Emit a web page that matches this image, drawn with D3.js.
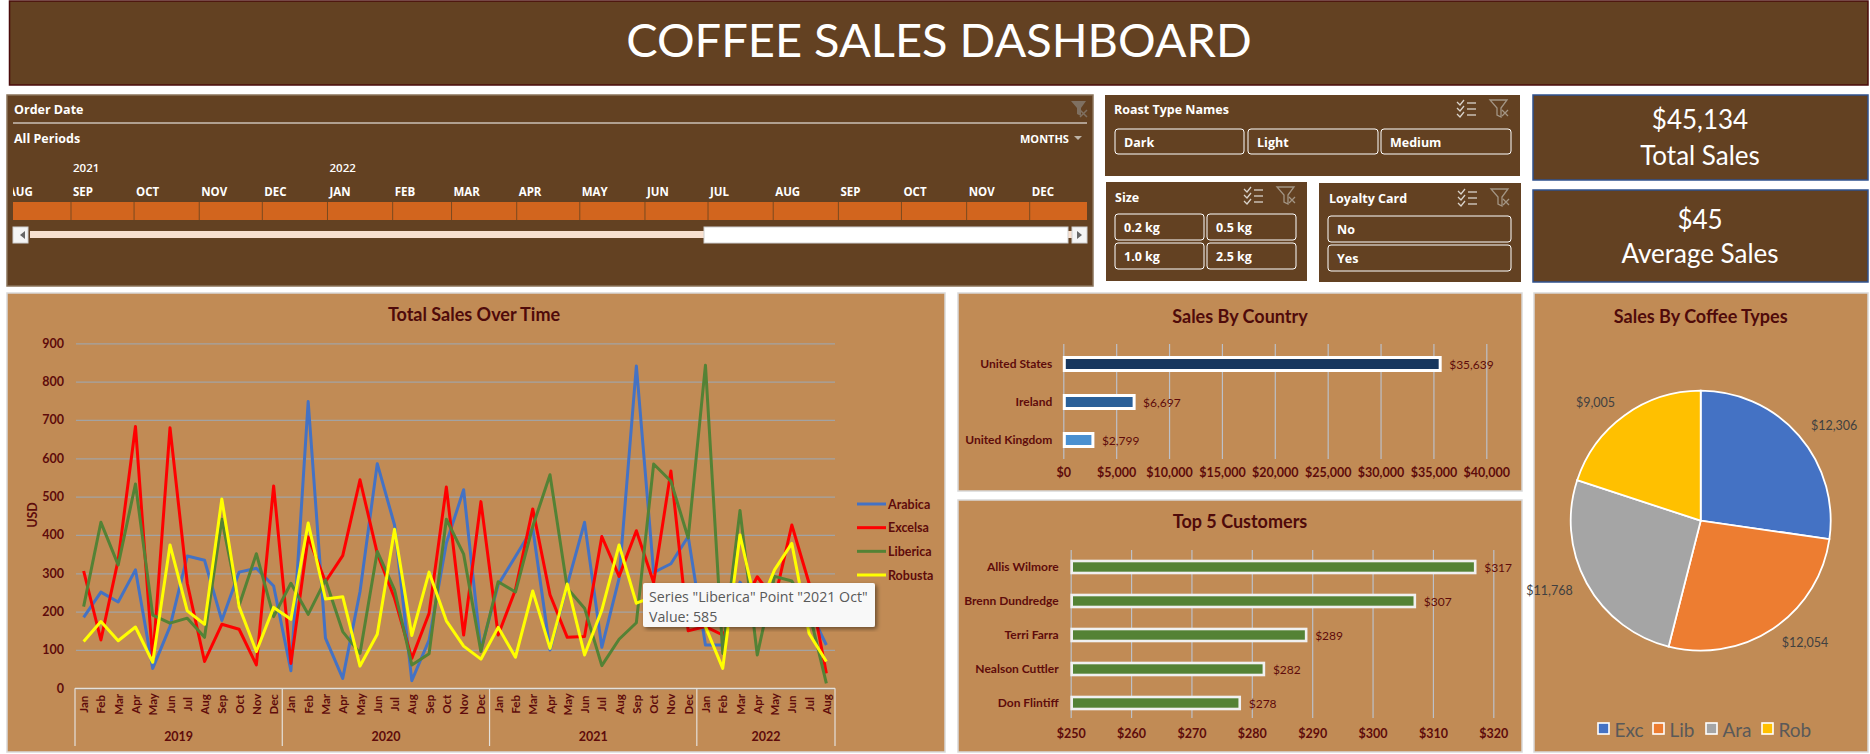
<!DOCTYPE html>
<html lang="en">
<head>
<meta charset="UTF-8">
<title>Coffee Sales Dashboard</title>
<style>
    body { margin: 0; background: #fff; }
    svg { display: block; }
    text { font-family: Lato, sans-serif; }
    .maroon { fill: #5e0b0b; font-weight: 700; }
    .title { fill: #4f0a0a; font-weight: 700; font-size: 18px; text-anchor: middle; dominant-baseline: central; }
    .slicer { fill: #fff; font-family: "Open Sans", sans-serif; font-weight: 700; font-size: 12.5px; dominant-baseline: central; }
    .kpi { fill: #fff; font-size: 26px; text-anchor: middle; dominant-baseline: central; }
    .axis .domain { display: none; }
    .axis text { fill: #5e0b0b; font-family: Lato, sans-serif; font-weight: 700; font-size: 12.5px; }
</style>
</head>
<body>
<svg width="1870" height="754"></svg>
<script src="https://d3js.org/d3.v7.min.js"></script>
<script>

var monthNames = ["Jan","Feb","Mar","Apr","May","Jun","Jul","Aug","Sep","Oct","Nov","Dec"];
var years = ["2019","2020","2021","2022"];
var yTicks = [0,100,200,300,400,500,600,700,800,900];

var arabica = [185,251,225,309,52,161,345,334,177,303,313,267,
               46,748,131,26,252,586,426,20,126,379,518,100,
               270,344,418,100,270,433,107,287,841,302,325,396,
               113,113,277,210,250,270,205,113];
var excelsa = [306,126,335,683,74,680,274,70,167,154,61,528,
               65,395,278,346,544,352,235,78,196,525,139,487,
               139,257,468,244,133,135,396,292,411,276,567,150,
               161,139,205,291,230,426,274,39];
var liberica = [213,433,322,533,191,170,183,133,441,216,351,187,
                274,193,283,148,91,357,257,61,90,441,350,96,
                278,251,422,557,261,209,59,128,171,585,540,392,
                843,91,464,87,292,280,200,13];
var robusta = [122,174,124,160,68,374,202,167,494,213,96,211,
               180,431,233,239,58,141,415,138,303,176,110,76,
               159,81,254,104,272,87,204,374,222,239,222,190,
               161,52,400,200,309,378,143,70];

var seriesNames = ["Arabica","Excelsa","Liberica","Robusta"];
var seriesColors = ["#4472c4","#ff0000","#548235","#ffff00"];

var countries = ["United States","Ireland","United Kingdom"];
var countrySales = [35639,6697,2799];
var countryColors = ["#17375e","#2a6099","#4a90d0"];
var countryTicks = [0,5000,10000,15000,20000,25000,30000,35000,40000];

var customers = ["Allis Wilmore","Brenn Dundredge","Terri Farra","Nealson Cuttler","Don Flintiff"];
var customerSales = [317,307,289,282,278];
var customerTicks = [250,260,270,280,290,300,310,320];

var coffeeTypes = ["Exc","Lib","Ara","Rob"];
var coffeeSales = [12306,12054,11768,9005];
var coffeeColors = ["#4472c4","#ed7d31","#a5a5a5","#ffc000"];

var roastNames = ["Dark","Light","Medium"];
var sizeNames = ["0.2 kg","0.5 kg","1.0 kg","2.5 kg"];
var loyaltyNames = ["No","Yes"];
var kpiValues = ["$45,134","$45"];
var kpiNames = ["Total Sales","Average Sales"];

var brown = "#634122", tan = "#c18b55";
var usd = d3.format("$,");
var svg = d3.select("svg");

function panel(x, y, x2, y2, fill, stroke) {
    return svg.append("rect").attr("x", x).attr("y", y)
        .attr("width", x2 - x).attr("height", y2 - y)
        .attr("fill", fill).attr("stroke", stroke || "none").attr("stroke-width", 1.5);
}

function label(x, y, txt, cls) {
    return svg.append("text").attr("x", x).attr("y", y).attr("class", cls).text(txt);
}

function button(x, y, x2, y2, txt) {
    svg.append("rect").attr("x", x).attr("y", y).attr("width", x2 - x).attr("height", y2 - y)
        .attr("rx", 3).attr("fill", "none").attr("stroke", "#fff");
    label(x + 9, (y + y2) / 2 + 0.5, txt, "slicer");
}

// the two little icons in a slicer header
function slicerIcons(x, y) {
    var g = svg.append("g").attr("transform", "translate(" + x + "," + y + ")")
        .attr("fill", "none").attr("stroke", "#d9d3cb").attr("stroke-width", 1.3);
    [2, 8, 14].forEach(function(d) {
        g.append("path").attr("d", "M0 " + d + "l3 3l4 -5");
        g.append("path").attr("d", "M10 " + (d + 1) + "h9");
    });
    var f = svg.append("g").attr("transform", "translate(" + (x + 33) + "," + y + ")")
        .attr("fill", "none").attr("stroke", "#a39584").attr("stroke-width", 1.3);
    f.append("path").attr("d", "M0 0h17l-6 8v9l-4 -2v-7z");
    f.append("path").attr("d", "M12 10l6 6M18 10l-6 6");
}

/* header */
panel(9.5, 1, 1868, 85, brown, "#4a0b0b");
label(939, 39, "COFFEE SALES DASHBOARD", "kpi").style("font-size", "47px");

/* timeline slicer */
panel(7, 95, 1093, 286, brown, "#8a735a");
label(14, 109, "Order Date", "slicer");
svg.append("line").attr("x1", 13).attr("x2", 1087).attr("y1", 123).attr("y2", 123).attr("stroke", "#fff");
label(14, 138, "All Periods", "slicer");
label(1020, 138, "MONTHS", "slicer").style("font-size", "11px");
svg.append("path").attr("d", "M1074 136h8l-4 4z").attr("fill", "#bdb3a6");
svg.append("path").attr("d", "M1071 101h15l-5 7v8l-4 -2v-6z").attr("fill", "#7f7061");
svg.append("path").attr("d", "M1080 110l7 7M1087 110l-7 7")
    .attr("fill", "none").attr("stroke", "#7f7061").attr("stroke-width", 1.5);

var timeX = d3.scaleUtc()
    .domain([new Date(Date.UTC(2021, 8, 1)), new Date(Date.UTC(2022, 11, 1))])
    .range([71, 1029.7]);
var monthStarts = d3.utcMonth.range(new Date(Date.UTC(2021, 7, 1)), new Date(Date.UTC(2022, 11, 2)));

svg.append("clipPath").attr("id", "tl").append("rect")
    .attr("x", 13).attr("y", 150).attr("width", 1074).attr("height", 75);
var tl = svg.append("g").attr("clip-path", "url(#tl)");
tl.append("rect").attr("x", 13).attr("y", 202).attr("width", 1074).attr("height", 18).attr("fill", "#d2651e");
tl.selectAll(".sep").data(monthStarts.slice(1)).enter().append("line")
    .attr("x1", timeX).attr("x2", timeX).attr("y1", 202).attr("y2", 220)
    .attr("stroke", "#7a4a20");
tl.selectAll(".mon").data(monthStarts).enter().append("text")
    .attr("class", "slicer").attr("x", function(d) { return timeX(d) + 2; }).attr("y", 191)
    .style("font-size", "11.5px")
    .text(function(d) { return d3.utcFormat("%b")(d).toUpperCase(); });
tl.selectAll(".yr").data(monthStarts.filter(function(d) {
        return +d === Date.UTC(2021, 8, 1) || +d === Date.UTC(2022, 0, 1);
    })).enter().append("text")
    .attr("class", "slicer").attr("x", function(d) { return timeX(d) + 2; }).attr("y", 167)
    .style("font-size", "11.5px").style("font-weight", 600)
    .text(function(d) { return d.getUTCFullYear(); });

// scroll bar
svg.append("rect").attr("x", 30).attr("y", 231).attr("width", 1042).attr("height", 7).attr("fill", "#f8e0cf");
svg.append("rect").attr("x", 704).attr("y", 227).attr("width", 364).attr("height", 16)
    .attr("fill", "#fff").attr("stroke", "#d0d0d0");
[[13, "M25 231v8l-5 -4z"], [1072, "M1077 231v8l5 -4z"]].forEach(function(d) {
    svg.append("rect").attr("x", d[0]).attr("y", 227).attr("width", 15).attr("height", 16)
        .attr("fill", "#f4f4f4").attr("stroke", "#d0d0d0");
    svg.append("path").attr("d", d[1]).attr("fill", "#666");
});

/* roast / size / loyalty slicers */
panel(1105, 95, 1520, 176, brown);
label(1114, 109, "Roast Type Names", "slicer");
slicerIcons(1457, 100);
[[1115, 1244], [1248, 1378], [1381, 1511]].forEach(function(d, i) {
    button(d[0], 129, d[1], 154, roastNames[i]);
});

panel(1106, 182, 1307, 281, brown);
label(1115, 197, "Size", "slicer");
slicerIcons(1244, 187);
[[1115, 214, 1204, 240], [1207, 214, 1296, 240], [1115, 243, 1204, 269], [1207, 243, 1296, 269]].forEach(function(d, i) {
    button(d[0], d[1], d[2], d[3], sizeNames[i]);
});

panel(1319, 183, 1521, 282, brown);
label(1329, 198, "Loyalty Card", "slicer");
slicerIcons(1458, 189);
[[216, 242], [245, 271]].forEach(function(d, i) {
    button(1328, d[0], 1511, d[1], loyaltyNames[i]);
});

/* KPI cards */
panel(1533, 95, 1868, 180, brown, "#2f528f");
label(1700, 119, kpiValues[0], "kpi");
label(1700, 155, kpiNames[0], "kpi");
panel(1533, 190, 1868, 282, brown, "#2f528f");
label(1700, 219, kpiValues[1], "kpi");
label(1700, 253, kpiNames[1], "kpi");

/* line chart */
panel(7, 293, 945, 752, tan, "#d9d9d9");
label(474, 314, "Total Sales Over Time", "title");

var months = [];
years.forEach(function(y) {
    monthNames.forEach(function(m) { months.push(y + " " + m); });
});
months = months.slice(0, arabica.length);

var x = d3.scaleBand().domain(months).range([75, 835]);
var y = d3.scaleLinear().domain([0, 900]).range([688.3, 343.3]);

svg.append("g").attr("class", "axis").attr("transform", "translate(76,0)")
    .call(d3.axisLeft(y).tickValues(yTicks).tickSize(-759).tickPadding(12))
    .call(function(g) {
        g.selectAll("line").attr("stroke", "#a3a3a3").attr("stroke-width", 1.2);
        g.selectAll("text").style("font-size", "12.5px");
    });

svg.append("text").attr("class", "maroon").attr("transform", "translate(32,515) rotate(-90)")
    .attr("text-anchor", "middle").attr("dominant-baseline", "central").style("font-size", "12.5px").text("USD");

var monthAxis = svg.append("g").attr("class", "axis").attr("transform", "translate(0,688.3)")
    .call(d3.axisBottom(x).tickSize(0).tickFormat(function(d) { return d.slice(5); }));
monthAxis.selectAll("text")
    .attr("transform", "translate(0,16) rotate(-90)").attr("x", 0).attr("y", 0).attr("dy", 0)
    .attr("text-anchor", "middle").attr("dominant-baseline", "central").style("font-size", "11.5px");

// year brackets under the months
var axisStroke = "#e4e0da";
svg.append("line").attr("x1", 75).attr("x2", 835).attr("y1", 688.3).attr("y2", 688.3)
    .attr("stroke", axisStroke).attr("stroke-width", 1.2);
var yearStart = years.map(function(d) { return x(d + " Jan"); }).concat([x.range()[1]]);
svg.selectAll(".yearline").data(yearStart).enter().append("line")
    .attr("x1", function(d) { return d; }).attr("x2", function(d) { return d; })
    .attr("y1", 688.3).attr("y2", 746).attr("stroke", axisStroke).attr("stroke-width", 1.2);
svg.selectAll(".yearlabel").data(years).enter().append("text")
    .attr("class", "maroon").style("font-size", "12.5px")
    .attr("text-anchor", "middle").attr("dominant-baseline", "central")
    .attr("x", function(d, i) { return (yearStart[i] + yearStart[i + 1]) / 2; })
    .attr("y", 736)
    .text(function(d) { return d; });

var line = d3.line()
    .x(function(d, i) { return x(months[i]) + x.bandwidth() / 2; })
    .y(function(d) { return y(d); });

[arabica, excelsa, liberica, robusta].forEach(function(values, i) {
    svg.append("path").datum(values)
        .attr("d", line).attr("fill", "none")
        .attr("stroke", seriesColors[i]).attr("stroke-width", 3)
        .attr("stroke-linejoin", "round");
});

// legend
var legY = d3.scalePoint().domain(seriesNames).range([504, 575]);
seriesNames.forEach(function(s, i) {
    svg.append("line").attr("x1", 857).attr("x2", 886).attr("y1", legY(s)).attr("y2", legY(s))
        .attr("stroke", seriesColors[i]).attr("stroke-width", 3);
    label(888, legY(s), s, "maroon").attr("dominant-baseline", "central").style("font-size", "12.5px");
});

// tooltip
svg.append("filter").attr("id", "shadow").append("feDropShadow")
    .attr("dx", 2).attr("dy", 2).attr("stdDeviation", 2).attr("flood-opacity", 0.45);
svg.append("rect").attr("x", 643).attr("y", 583).attr("width", 232).attr("height", 44).attr("rx", 2)
    .attr("fill", "#f8f8f8").attr("filter", "url(#shadow)");
[["Series \"Liberica\" Point \"2021 Oct\"", 596], ["Value: 585", 616]].forEach(function(d) {
    label(649, d[1], d[0]).attr("dominant-baseline", "central")
        .style("font-family", "'Open Sans', sans-serif").style("font-size", "14.2px").attr("fill", "#595959");
});

/* sales by country */
panel(958, 293, 1522, 491, tan, "#d9d9d9");
label(1240, 316, "Sales By Country", "title");

var cx = d3.scaleLinear().domain([0, 40000]).range([1063.3, 1486.3]);
var cy = d3.scaleBand().domain(countries).range([345, 459]);

svg.append("g").attr("class", "axis").attr("transform", "translate(0,459)")
    .call(d3.axisBottom(cx).tickValues(countryTicks).tickSize(-115).tickPadding(9).tickFormat(usd))
    .call(function(g) { g.selectAll("line").attr("stroke", "#bcc0c8").attr("stroke-width", 1.2); });
svg.append("g").attr("class", "axis").attr("transform", "translate(1063.3,0)")
    .call(d3.axisLeft(cy).tickSize(0).tickPadding(11))
    .call(function(g) { g.selectAll("text").style("font-size", "12px"); });

svg.selectAll(".cbar").data(countries).enter().append("rect")
    .attr("x", cx(0) + 1)
    .attr("y", function(d) { return cy(d) + cy.bandwidth() / 2 - 6.5; })
    .attr("width", function(d, i) { return cx(countrySales[i]) - cx(0) - 1; })
    .attr("height", 13)
    .attr("fill", function(d, i) { return countryColors[i]; })
    .attr("stroke", "#fff").attr("stroke-width", 3);
svg.selectAll(".clab").data(countries).enter().append("text")
    .attr("class", "maroon").style("font-weight", 400).style("font-size", "12px")
    .attr("dominant-baseline", "central")
    .attr("x", function(d, i) { return cx(countrySales[i]) + 9; })
    .attr("y", function(d) { return cy(d) + cy.bandwidth() / 2; })
    .text(function(d, i) { return usd(countrySales[i]); });

/* top customers */
panel(958, 500, 1522, 752, tan, "#d9d9d9");
label(1240, 521, "Top 5 Customers", "title");

var tx = d3.scaleLinear().domain([250, 320]).range([1070.7, 1493.3]);
var ty = d3.scaleBand().domain(customers).range([550, 720]);

svg.append("g").attr("class", "axis").attr("transform", "translate(0,718)")
    .call(d3.axisBottom(tx).tickValues(customerTicks).tickSize(-168).tickPadding(11).tickFormat(usd))
    .call(function(g) { g.selectAll("line").attr("stroke", "#bcc0c8").attr("stroke-width", 1.2); });
svg.append("g").attr("class", "axis").attr("transform", "translate(1070.7,0)")
    .call(d3.axisLeft(ty).tickSize(0).tickPadding(12))
    .call(function(g) { g.selectAll("text").style("font-size", "12px"); });

svg.selectAll(".tbar").data(customers).enter().append("rect")
    .attr("x", tx(250) + 1)
    .attr("y", function(d) { return ty(d) + ty.bandwidth() / 2 - 6; })
    .attr("width", function(d, i) { return tx(customerSales[i]) - tx(250) - 1; })
    .attr("height", 12)
    .attr("fill", "#548235").attr("stroke", "#f0f0f0").attr("stroke-width", 2.6);
svg.selectAll(".tlab").data(customers).enter().append("text")
    .attr("class", "maroon").style("font-weight", 400).style("font-size", "12px")
    .attr("dominant-baseline", "central")
    .attr("x", function(d, i) { return tx(customerSales[i]) + 9; })
    .attr("y", function(d) { return ty(d) + ty.bandwidth() / 2; })
    .text(function(d, i) { return usd(customerSales[i]); });

/* pie */
panel(1534, 293, 1868, 752, tan, "#d9d9d9");
label(1700.7, 316, "Sales By Coffee Types", "title");

var pie = d3.pie().sort(null);
var arc = d3.arc().innerRadius(0).outerRadius(130);
var labelArc = d3.arc().innerRadius(146).outerRadius(146);
var pieG = svg.append("g").attr("transform", "translate(1700.7,520.7)");

pieG.selectAll("path").data(pie(coffeeSales)).enter().append("path")
    .attr("d", arc)
    .attr("fill", function(d, i) { return coffeeColors[i]; })
    .attr("stroke", "#fff").attr("stroke-width", 1.8);
pieG.selectAll("text").data(pie(coffeeSales)).enter().append("text")
    .attr("transform", function(d) { return "translate(" + labelArc.centroid(d) + ")"; })
    .attr("text-anchor", function(d) { return labelArc.centroid(d)[0] > 0 ? "start" : "end"; })
    .attr("dominant-baseline", "central")
    .attr("fill", "#404040").style("font-size", "12.5px")
    .text(function(d) { return usd(d.data); });

var legendX = d3.scaleOrdinal().domain(coffeeTypes).range([1598, 1653, 1706, 1762]);
coffeeTypes.forEach(function(t, i) {
    svg.append("rect").attr("x", legendX(t)).attr("y", 723).attr("width", 11).attr("height", 11)
        .attr("fill", coffeeColors[i]).attr("stroke", "#fff").attr("stroke-width", 1.6);
    label(legendX(t) + 16.5, 729, t).attr("dominant-baseline", "central")
        .attr("fill", "#595959").style("font-size", "19px");
});

</script>
</body>
</html>
